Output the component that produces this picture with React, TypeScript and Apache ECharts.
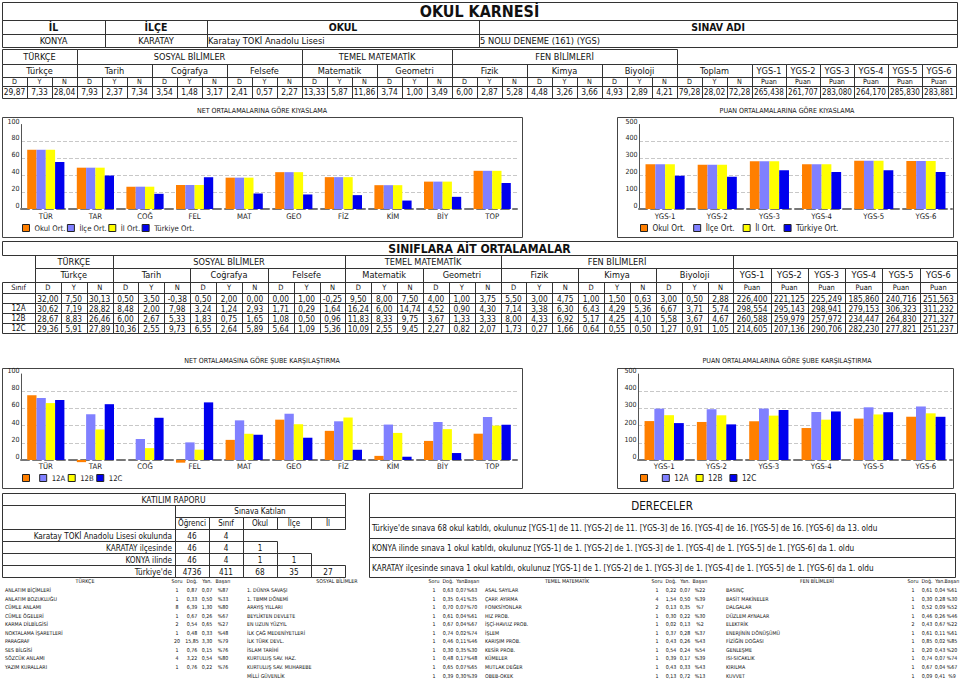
import React, { useEffect, useRef } from 'react';
import * as echarts from 'echarts';

const FONT = '"DejaVu Sans Condensed", "DejaVu Sans", sans-serif';
const FS = 1.1;

// ---------- header ----------
const reportTitle = 'OKUL KARNESİ';
const infoLabels = ['İL', 'İLÇE', 'OKUL', 'SINAV ADI'];
const infoValues = ['KONYA', 'KARATAY', 'Karatay TOKİ Anadolu Lisesi', '5 NOLU DENEME (161) (YGS)'];

const groupNames = ['TÜRKÇE', 'SOSYAL BİLİMLER', 'TEMEL MATEMATİK', 'FEN BİLİMLERİ'];
const groupSubjectCounts = [1, 3, 2, 3];
const subjectNames = ['Türkçe', 'Tarih', 'Coğrafya', 'Felsefe', 'Matematik', 'Geometri', 'Fizik', 'Kimya', 'Biyoloji'];
const totalLabel = 'Toplam';
const dynLabels = ['D', 'Y', 'N'];
const ygsNames = ['YGS-1', 'YGS-2', 'YGS-3', 'YGS-4', 'YGS-5', 'YGS-6'];
const puanLabel = 'Puan';

const schoolNets = [
  29.87, 7.33, 28.04, 7.93, 2.37, 7.34, 3.54, 1.48, 3.17, 2.41, 0.57, 2.27,
  13.33, 5.87, 11.86, 3.74, 1.0, 3.49, 6.0, 2.87, 5.28, 4.48, 3.26, 3.66,
  4.93, 2.89, 4.21, 79.28, 28.02, 72.28,
];
const schoolPuan = [265.438, 261.707, 283.08, 264.17, 285.83, 283.881];

// ---------- class table ----------
const classTitle = 'SINIFLARA AİT ORTALAMALAR';
const classColLabel = 'Sınıf';
const classNames = ['', '12A', '12B', '12C'];
const classNetsSchool = [32.0, 7.5, 30.13, 0.5, 3.5, -0.38, 0.5, 2.0, 0.0, 0.0, 1.0, -0.25, 9.5, 8.0, 7.5, 4.0, 1.0, 3.75, 5.5, 3.0, 4.75, 1.0, 1.5, 0.63, 3.0, 0.5, 2.88];
const classNets12A = [30.62, 7.19, 28.82, 8.48, 2.0, 7.98, 3.24, 1.24, 2.93, 1.71, 0.29, 1.64, 16.24, 6.0, 14.74, 4.52, 0.9, 4.3, 7.14, 3.38, 6.3, 6.43, 4.29, 5.36, 6.67, 3.71, 5.74];
const classNets12B = [28.67, 8.83, 26.46, 6.0, 2.67, 5.33, 1.83, 0.75, 1.65, 1.08, 0.5, 0.96, 11.83, 8.33, 9.75, 3.67, 1.33, 3.33, 8.0, 4.33, 6.92, 5.17, 4.25, 4.1, 5.58, 3.67, 4.67];
const classNets12C = [29.36, 5.91, 27.89, 10.36, 2.55, 9.73, 6.55, 2.64, 5.89, 5.64, 1.09, 5.36, 10.09, 2.55, 9.45, 2.27, 0.82, 2.07, 1.73, 0.27, 1.66, 0.64, 0.55, 0.5, 1.27, 0.91, 1.05];
const classPuanSchool = [226.4, 221.125, 225.249, 185.86, 240.716, 251.563];
const classPuan12A = [298.554, 295.143, 298.941, 279.153, 306.323, 311.232];
const classPuan12B = [260.588, 259.979, 257.972, 234.447, 264.83, 271.327];
const classPuan12C = [214.605, 207.136, 290.706, 282.23, 277.821, 251.237];

// ---------- charts ----------
const chartTitles = [
  'NET ORTALAMALARINA GÖRE KIYASLAMA',
  'PUAN ORTALAMALARINA GÖRE KIYASLAMA',
  'NET ORTALAMASINA GÖRE ŞUBE KARŞILAŞTIRMA',
  'PUAN ORTALAMALARINA GÖRE ŞUBE KARŞILAŞTIRMA',
];
const netCategories = ['TÜR', 'TAR', 'COĞ', 'FEL', 'MAT', 'GEO', 'FİZ', 'KİM', 'BİY', 'TOP'];
const compareNames = ['Okul Ort.', 'İlçe Ort.', 'İl Ort.', 'Türkiye Ort.'];
const okulNetPct = [70.1, 48.9, 26.4, 28.4, 37.1, 43.6, 37.7, 28.2, 32.4, 45.2];
const ilceNetPct = [70.1, 48.9, 26.4, 28.4, 37.1, 43.6, 37.7, 28.2, 32.4, 45.2];
const ilNetPct = [70.1, 48.9, 26.4, 28.4, 37.1, 43.6, 37.7, 28.2, 32.4, 45.2];
const turkiyeNetPct = [55.6, 39.6, 18.0, 37.6, 18.4, 17.2, 16.4, 10.0, 14.4, 30.8];
const okulPuanAvg = [265.438, 261.707, 283.08, 264.17, 285.83, 283.881];
const ilcePuanAvg = [265.438, 261.707, 283.08, 264.17, 285.83, 283.881];
const ilPuanAvg = [265.438, 261.707, 283.08, 264.17, 285.83, 283.881];
const turkiyePuanAvg = [197, 191, 230, 219, 229, 219];

const subeNames = [' ', '12A', '12B', '12C'];
const subeSchoolNetPct = [75.3, -2.5, 0, -3.1, 23.4, 46.9, 33.9, 4.8, 22.2, 30.6];
const sube12ANetPct = [72.1, 53.2, 24.4, 20.5, 46.1, 53.8, 45.0, 41.2, 44.2, 50.0];
const sube12BNetPct = [66.2, 35.5, 13.8, 12.0, 30.5, 41.6, 49.4, 31.5, 35.9, 40.0];
const sube12CNetPct = [69.7, 64.9, 49.1, 67.0, 29.5, 25.9, 11.9, 3.8, 8.1, 41.0];
const subeSchoolPuan = [226.4, 221.125, 225.249, 185.86, 240.716, 251.563];
const sube12APuan = [298.554, 295.143, 298.941, 279.153, 306.323, 311.232];
const sube12BPuan = [260.588, 259.979, 257.972, 234.447, 264.83, 271.327];
const sube12CPuan = [214.605, 207.136, 290.706, 282.23, 277.821, 251.237];

// ---------- participation ----------
const katilimTitle = 'KATILIM RAPORU';
const katilimHeader = 'Sınava Katılan';
const katilimCols = ['Öğrenci', 'Sınıf', 'Okul', 'İlçe', 'İl'];
const katilimRows = ['Karatay TOKİ Anadolu Lisesi okulunda', 'KARATAY ilçesinde', 'KONYA ilinde', "Türkiye'de"];
const katilimValues = [['46', '4'], ['46', '4', '1'], ['46', '4', '1', '1'], ['4736', '411', '68', '35', '27']];

const derecelerTitle = 'DERECELER';
const derecelerLines = [
  "Türkiye'de sınava 68 okul katıldı, okulunuz [YGS-1] de 11. [YGS-2] de 11. [YGS-3] de 16. [YGS-4] de 16. [YGS-5] de 16. [YGS-6] da 13. oldu",
  'KONYA ilinde sınava 1 okul katıldı, okulunuz [YGS-1] de 1. [YGS-2] de 1. [YGS-3] de 1. [YGS-4] de 1. [YGS-5] de 1. [YGS-6] da 1. oldu',
  'KARATAY ilçesinde sınava 1 okul katıldı, okulunuz [YGS-1] de 1. [YGS-2] de 1. [YGS-3] de 1. [YGS-4] de 1. [YGS-5] de 1. [YGS-6] da 1. oldu',
];

// ---------- topics ----------
const topicHeaders = ['Soru', 'Doğ.', 'Yan.', 'Başarı'];
const turkceTopics = [
  ['ANLATIM BİÇİMLERİ', '1', '0,87', '0,07', '%87'],
  ['ANLATIM BOZUKLUĞU', '1', '0,33', '0,50', '%33'],
  ['CÜMLE ANLAMI', '8', '6,39', '1,30', '%80'],
  ['CÜMLE ÖGELERİ', '1', '0,67', '0,26', '%67'],
  ['KARMA DİLBİLGİSİ', '2', '0,54', '0,65', '%27'],
  ['NOKTALAMA İŞARETLERİ', '1', '0,48', '0,33', '%48'],
  ['PARAGRAF', '20', '15,85', '3,30', '%79'],
  ['SES BİLGİSİ', '1', '0,76', '0,15', '%76'],
  ['SÖZCÜK ANLAMI', '4', '3,22', '0,54', '%80'],
  ['YAZIM KURALLARI', '1', '0,76', '0,22', '%76'],
];
const sosyalTopics = [
  ['1. DÜNYA SAVAŞI', '1', '0,63', '0,07', '%63'],
  ['1. TBMM DÖNEMİ', '1', '0,35', '0,41', '%35'],
  ['ARAYIŞ YILLARI', '1', '0,70', '0,07', '%70'],
  ['BEYLİKTEN DEVLETE', '1', '0,61', '0,04', '%61'],
  ['EN UZUN YÜZYIL', '1', '0,67', '0,04', '%67'],
  ['İLK ÇAĞ MEDENİYETLERİ', '1', '0,74', '0,02', '%74'],
  ['İLK TÜRK DEVL.', '1', '0,46', '0,11', '%46'],
  ['İSLAM TARİHİ', '1', '0,30', '0,35', '%30'],
  ['KURTULUŞ SAV. HAZ.', '1', '0,48', '0,17', '%48'],
  ['KURTULUŞ SAV. MUHAREBE', '1', '0,65', '0,07', '%65'],
  ['MİLLİ GÜVENLİK', '1', '0,39', '0,30', '%39'],
];
const matTopics = [
  ['ASAL SAYILAR', '1', '0,22', '0,07', '%22'],
  ['ÇARP. AYIRMA', '4', '1,54', '0,50', '%39'],
  ['FONKSİYONLAR', '2', '0,13', '0,35', '%7'],
  ['HIZ PROB.', '1', '0,30', '0,22', '%30'],
  ['İŞÇİ-HAVUZ PROB.', '1', '0,02', '0,13', '%2'],
  ['İŞLEM', '1', '0,37', '0,28', '%37'],
  ['KARIŞIM PROB.', '1', '0,43', '0,26', '%43'],
  ['KESİR PROB.', '1', '0,54', '0,24', '%54'],
  ['KÜMELER', '1', '0,39', '0,17', '%39'],
  ['MUTLAK DEĞER', '1', '0,43', '0,33', '%43'],
  ['OBEB-OKEK', '1', '0,13', '0,72', '%13'],
];
const fenTopics = [
  ['BASINÇ', '1', '0,61', '0,04', '%61'],
  ['BASİT MAKİNELER', '1', '0,30', '0,28', '%30'],
  ['DALGALAR', '1', '0,52', '0,09', '%52'],
  ['DÜZLEM AYNALAR', '1', '0,46', '0,26', '%46'],
  ['ELEKTRİK', '2', '0,43', '0,67', '%22'],
  ['ENERJİNİN DÖNÜŞÜMÜ', '1', '0,61', '0,11', '%61'],
  ['FİZİĞİN DOĞASI', '1', '0,85', '0,02', '%85'],
  ['GENLEŞME', '1', '0,20', '0,43', '%20'],
  ['ISI-SICAKLIK', '1', '0,74', '0,07', '%74'],
  ['KIRILMA', '1', '0,67', '0,04', '%67'],
  ['KUVVET', '1', '0,09', '0,41', '%9'],
];

const COLORS = ['#FF7F00', '#8080FF', '#FFFF00', '#0000EE'];

function fmt2(v: number) { return v.toFixed(2).replace('.', ','); }
function fmt3(v: number) { return v.toFixed(3).replace('.', ','); }

function buildOption() {
  const els: any[] = [];
  const LINE = '#333';
  const p = (v: number) => Math.round(v) + 0.5;
  const box = (x1: number, y1: number, x2: number, y2: number, stroke = LINE, lw = 1) => {
    const a = p(x1), b = p(y1), c = p(x2), d = p(y2);
    els.push({ type: 'rect', silent: true, shape: { x: a, y: b, width: c - a, height: d - b }, style: { fill: 'none', stroke, lineWidth: lw } });
  };
  const txt = (x: number, y: number, text: string, size: number, opts: any = {}) => {
    const align = opts.align || 'center';
    els.push({
      type: 'text', silent: true, x, y,
      style: {
        text, fontSize: size * FS, fontFamily: FONT, fontWeight: opts.bold ? 'bold' : 'normal',
        fill: opts.color || '#111', align, verticalAlign: 'middle', textAlign: align, textVerticalAlign: 'middle',
      },
    });
  };
  const cell = (x1: number, y1: number, x2: number, y2: number, text: string, size: number, opts: any = {}) => {
    if (!opts.noBorder) box(x1, y1, x2, y2);
    if (text !== '') {
      const a = opts.align || 'center';
      const pad = opts.pad ?? 2;
      const tx = a === 'left' ? x1 + pad : a === 'right' ? x2 - pad : (x1 + x2) / 2;
      txt(tx, (y1 + y2) / 2 + 0.5, text, size, opts);
    }
  };

  // ===== top header =====
  cell(2, 2, 957, 20, reportTitle, 14.5, { bold: true });
  const infoX = [2, 105, 207, 479, 957];
  infoLabels.forEach((l, i) => {
    cell(infoX[i], 20, infoX[i + 1], 33.5, l, 9.5, { bold: true });
    cell(infoX[i], 33.5, infoX[i + 1], 47, infoValues[i], 8.4, { align: i < 2 ? 'center' : 'left', pad: 1 });
  });

  // ===== school subject table =====
  const tY = [49, 63.5, 77, 85.5, 97.5];
  const tX0 = 2, tSW = 25, tYW = 34;
  const tYX0 = tX0 + 30 * tSW;
  let k = 0;
  groupNames.forEach((g, i) => {
    const n = groupSubjectCounts[i] * 3;
    cell(tX0 + k * tSW, tY[0], tX0 + (k + n) * tSW, tY[1], g, 8.3);
    k += n;
  });
  [...subjectNames, totalLabel].forEach((s, j) => cell(tX0 + 3 * j * tSW, tY[1], tX0 + 3 * (j + 1) * tSW, tY[2], s, 8.3));
  ygsNames.forEach((s, j) => cell(tYX0 + j * tYW, tY[1], tYX0 + (j + 1) * tYW, tY[2], s, 8.3));
  for (let c = 0; c < 30; c++) {
    cell(tX0 + c * tSW, tY[2], tX0 + (c + 1) * tSW, tY[3], dynLabels[c % 3], 6.5);
    cell(tX0 + c * tSW, tY[3], tX0 + (c + 1) * tSW, tY[4], fmt2(schoolNets[c]), 7.6);
  }
  ygsNames.forEach((_, j) => {
    cell(tYX0 + j * tYW, tY[2], tYX0 + (j + 1) * tYW, tY[3], puanLabel, 6.5);
    cell(tYX0 + j * tYW, tY[3], tYX0 + (j + 1) * tYW, tY[4], fmt3(schoolPuan[j]), 7.3);
  });

  // ===== chart titles & frames =====
  const frames = [[2, 117, 522, 237], [617, 117, 953, 237], [2, 368, 522, 488], [617, 368, 953, 488]];
  const titlePos = [[262, 110], [787, 110], [262, 360], [787, 360]];
  frames.forEach((f, i) => {
    box(f[0], f[1], f[2], f[3], '#444', 1);
    txt(titlePos[i][0], titlePos[i][1], chartTitles[i], 6.4);
  });

  // ===== class table =====
  const mY = [241, 255, 268, 281.5, 293, 303, 313, 323, 333];
  const mX0 = 35, mSW = 77.6 / 3;
  const mYX0 = mX0 + 27 * mSW;
  const mYW = (957 - mYX0) / 6;
  cell(2, mY[0], 957, mY[1], classTitle, 11, { bold: true });
  k = 0;
  groupNames.forEach((g, i) => {
    const n = groupSubjectCounts[i] * 3;
    cell(mX0 + k * mSW, mY[1], mX0 + (k + n) * mSW, mY[2], g, 8.3);
    k += n;
  });
  cell(mYX0, mY[1], 957, mY[2], '', 8);
  subjectNames.forEach((s, j) => cell(mX0 + 3 * j * mSW, mY[2], mX0 + 3 * (j + 1) * mSW, mY[3], s, 8.3));
  ygsNames.forEach((s, j) => cell(mYX0 + j * mYW, mY[2], mYX0 + (j + 1) * mYW, mY[3], s, 8.3));
  cell(2, mY[3], mX0, mY[4], classColLabel, 6.8);
  for (let c = 0; c < 27; c++) cell(mX0 + c * mSW, mY[3], mX0 + (c + 1) * mSW, mY[4], dynLabels[c % 3], 6.8);
  ygsNames.forEach((_, j) => cell(mYX0 + j * mYW, mY[3], mYX0 + (j + 1) * mYW, mY[4], puanLabel, 6.8));
  const classNetRows = [classNetsSchool, classNets12A, classNets12B, classNets12C];
  const classPuanRows = [classPuanSchool, classPuan12A, classPuan12B, classPuan12C];
  classNames.forEach((nm, r) => {
    const y1 = mY[4 + r], y2 = mY[5 + r];
    cell(2, y1, mX0, y2, nm, 7.3);
    classNetRows[r].forEach((v, c) => cell(mX0 + c * mSW, y1, mX0 + (c + 1) * mSW, y2, fmt2(v), 7.5));
    classPuanRows[r].forEach((v, j) => cell(mYX0 + j * mYW, y1, mYX0 + (j + 1) * mYW, y2, fmt3(v), 7.5));
  });

  // ===== participation =====
  const kY = [493, 505, 517, 529, 541, 553, 565, 577];
  const kX = [2, 175, 209, 243, 277, 311, 345];
  cell(2, kY[0], 345, kY[1], katilimTitle, 7.8);
  cell(2, kY[1], 175, kY[3], '', 7);
  cell(175, kY[1], 345, kY[2], katilimHeader, 7.3);
  katilimCols.forEach((c, i) => cell(kX[i + 1], kY[2], kX[i + 2], kY[3], c, 7.3));
  katilimRows.forEach((r, i) => {
    cell(2, kY[3 + i], 175, kY[4 + i], r, 7.4, { align: 'right', pad: 3 });
    katilimValues[i].forEach((v, j) => cell(kX[j + 1], kY[3 + i], kX[j + 2], kY[4 + i], v, 7.4));
  });

  // ===== dereceler =====
  const dY = [493, 517, 538, 557, 577];
  cell(369, dY[0], 955, dY[1], derecelerTitle, 10.5);
  derecelerLines.forEach((l, i) => cell(369, dY[i + 1], 955, dY[i + 2], l, 7.4, { align: 'left', pad: 3 }));

  // ===== topics =====
  const sections = [
    { name: groupNames[0], rows: turkceTopics, lx: 5, hx: 85, cols: [177, 192, 207, 223] },
    { name: groupNames[1], rows: sosyalTopics, lx: 247, hx: 337, cols: [434, 448, 461, 472] },
    { name: groupNames[2], rows: matTopics, lx: 485, hx: 567, cols: [657, 671, 685, 700] },
    { name: groupNames[3], rows: fenTopics, lx: 726, hx: 817, cols: [913, 927, 940, 952] },
  ];
  sections.forEach((s) => {
    txt(s.hx, 581, s.name, 4.8);
    topicHeaders.forEach((h, j) => txt(s.cols[j], 581, h, 4.8));
    s.rows.forEach((row, i) => {
      const y = 590 + i * 8.55;
      txt(s.lx, y, row[0], 4.8, { align: 'left' });
      for (let j = 1; j < 5; j++) txt(s.cols[j - 1], y, row[j], 4.8);
    });
  });

  // ===== charts =====
  const grids = [
    { left: 21, top: 124.5, width: 496, height: 84.5 },
    { left: 639, top: 124.5, width: 313, height: 84.5 },
    { left: 21, top: 374, width: 496, height: 86 },
    { left: 638, top: 374, width: 314, height: 86 },
  ];
  const xAxis = grids.map((_, i) => ({
    type: 'category', gridIndex: i, data: i % 2 === 0 ? netCategories : ygsNames,
    axisLine: { show: true, lineStyle: { color: '#777', type: 'dashed', width: 2 } },
    axisTick: { show: false },
    axisLabel: { fontSize: 7 * FS, color: '#222', margin: i < 2 ? 3.5 : 2.5, fontFamily: FONT },
  }));
  const yAxis = grids.map((_, i) => ({
    type: 'value', gridIndex: i, min: 0, max: i % 2 === 0 ? 100 : 500, interval: i % 2 === 0 ? 20 : 100,
    axisLine: { show: true, lineStyle: { color: '#555', width: 1 } },
    axisTick: { show: false },
    axisLabel: { fontSize: 6.4 * FS, color: '#222', margin: 1.5, fontFamily: FONT, verticalAlign: 'bottom' },
    splitLine: { show: true, showMinLine: false, showMaxLine: false, lineStyle: { color: '#c8c8c8', type: 'dashed', width: 1 } },
  }));
  const seriesSets = [
    { names: compareNames, data: [okulNetPct, ilceNetPct, ilNetPct, turkiyeNetPct] },
    { names: compareNames, data: [okulPuanAvg, ilcePuanAvg, ilPuanAvg, turkiyePuanAvg] },
    { names: subeNames, data: [subeSchoolNetPct, sube12ANetPct, sube12BNetPct, sube12CNetPct] },
    { names: subeNames, data: [subeSchoolPuan, sube12APuan, sube12BPuan, sube12CPuan] },
  ];
  const series: any[] = [];
  seriesSets.forEach((set, g) => {
    set.names.forEach((n, s) => {
      series.push({
        type: 'bar', name: n, xAxisIndex: g, yAxisIndex: g, data: set.data[s],
        itemStyle: { color: COLORS[s] }, barGap: '0%', barCategoryGap: '25%', clip: false,
      });
    });
  });
  const legendPos = [
    { left: 22, top: 224, gap: 1.5, fs: 7 },
    { left: 640, top: 224, gap: 8, fs: 7.4 },
    { left: 22, top: 474, gap: 2.5, fs: 7 },
    { left: 640, top: 474, gap: 7, fs: 7.4 },
  ];
  const legend = legendPos.map((lp, i) => ({
    data: seriesSets[i].names, left: lp.left, top: lp.top, itemGap: lp.gap, padding: 0,
    itemWidth: 7, itemHeight: 7, icon: 'rect', selectedMode: false,
    itemStyle: { borderColor: '#222', borderWidth: 1 },
    textStyle: { fontSize: lp.fs * FS, color: '#222', fontFamily: FONT },
  }));

  return {
    animation: false,
    backgroundColor: '#ffffff',
    textStyle: { fontFamily: FONT },
    grid: grids,
    xAxis, yAxis, legend, series,
    graphic: { elements: els },
  };
}

export default function App() {
  const ref = useRef<HTMLDivElement>(null);
  useEffect(() => {
    if (!ref.current) return;
    const chart = echarts.init(ref.current, null, { renderer: 'svg' });
    chart.setOption(buildOption() as any);
    return () => chart.dispose();
  }, []);
  return <div ref={ref} style={{ position: 'fixed', left: 0, top: 0, width: 960, height: 680, background: '#fff' }} />;
}
